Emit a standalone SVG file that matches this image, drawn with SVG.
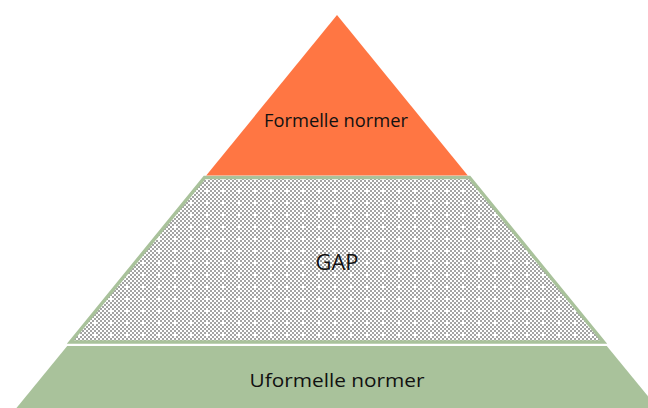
<svg xmlns="http://www.w3.org/2000/svg" width="648" height="408" viewBox="0 0 648 408">
  <style>
    .lbl { font-family: "Open Sans", "Liberation Sans", sans-serif; fill: #111111; text-anchor: middle; }
  </style>
  <defs>
    <pattern id="checker" x="0" y="0" width="4" height="4" patternUnits="userSpaceOnUse">
      <rect x="0" y="0" width="4" height="4" fill="#ffffff"/>
      <rect x="0" y="0" width="2" height="2" fill="#a3a3a3"/>
      <rect x="2" y="2" width="2" height="2" fill="#a3a3a3"/>
    </pattern>
    <pattern id="dots" x="0" y="0" width="16" height="12" patternUnits="userSpaceOnUse">
      <rect x="0" y="0" width="16" height="12" fill="url(#checker)"/>
      <rect x="6" y="4" width="2" height="2" fill="#ffffff"/>
      <rect x="14" y="10" width="2" height="2" fill="#ffffff"/>
    </pattern>
  </defs>
  <rect width="648" height="408" fill="#ffffff"/>
  <g id="uformelle">
    <polygon points="67.2,346 606.8,346 660,411 14,411" fill="#a9c29b"/>
    <text class="lbl" x="337" y="387" font-size="19" textLength="175" lengthAdjust="spacingAndGlyphs">Uformelle normer</text>
  </g>
  <g id="gap">
    <polygon points="204.6,177.5 469.4,177.5 603.5,342 70.5,342" fill="url(#dots)" stroke="#a9c29b" stroke-width="3.5" stroke-linejoin="miter"/>
    <text class="lbl" x="337" y="270" font-size="22" textLength="43" lengthAdjust="spacingAndGlyphs">GAP</text>
  </g>
  <g id="formelle">
    <polygon points="337,15 467.8,175.5 206.2,175.5" fill="#ff7643"/>
    <text class="lbl" x="336" y="127" font-size="18" textLength="144" lengthAdjust="spacingAndGlyphs">Formelle normer</text>
  </g>
  <g id="connectors"></g>
</svg>
